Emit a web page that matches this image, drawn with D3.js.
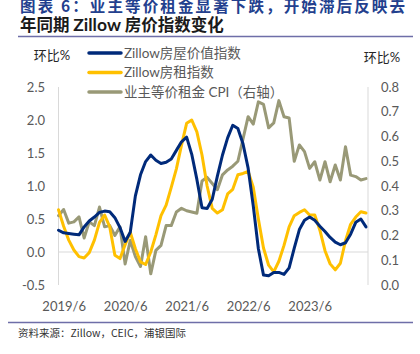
<!DOCTYPE html>
<html><head><meta charset="utf-8">
<script src="https://cdn.jsdelivr.net/npm/d3@7"></script>
<style>
html,body{margin:0;padding:0;background:#fff;}
svg{display:block;font-family:"Lato","Noto Sans CJK SC",sans-serif;}
</style></head>
<body><svg id="c" width="420" height="354"></svg>
<script>
const months = ["2019/5","2019/6","2019/7","2019/8","2019/9","2019/10","2019/11","2019/12",
"2020/1","2020/2","2020/3","2020/4","2020/5","2020/6","2020/7","2020/8","2020/9","2020/10","2020/11","2020/12",
"2021/1","2021/2","2021/3","2021/4","2021/5","2021/6","2021/7","2021/8","2021/9","2021/10","2021/11","2021/12",
"2022/1","2022/2","2022/3","2022/4","2022/5","2022/6","2022/7","2022/8","2022/9","2022/10","2022/11","2022/12",
"2023/1","2023/2","2023/3","2023/4","2023/5","2023/6","2023/7","2023/8","2023/9","2023/10","2023/11","2023/12",
"2024/1","2024/2","2024/3","2024/4","2024/5"];
const xTickLabels = ["2019/6","2020/6","2021/6","2022/6","2023/6"];
const homeValue = [0.33,0.29,0.28,0.27,0.26,0.38,0.47,0.53,0.60,0.62,
 0.61,0.52,0.37,0.16,0.30,0.85,1.17,1.37,1.47,1.39,
 1.34,1.36,1.41,1.54,1.67,1.74,1.48,1.10,0.67,0.66,
 0.80,1.15,1.47,1.73,1.92,1.87,1.64,1.27,0.70,0.05,
 -0.35,-0.36,-0.31,-0.31,-0.34,-0.24,0.06,0.34,0.48,0.53,
 0.48,0.39,0.31,0.22,0.15,0.11,0.14,0.27,0.45,0.50,0.38];
const rentIndex = [0.64,0.39,0.18,0.03,-0.07,-0.09,-0.01,0.18,0.45,0.56,
 0.38,-0.05,-0.10,0.11,0.30,0.05,-0.15,-0.19,0.00,0.26,
 0.55,0.71,0.98,1.26,1.62,1.95,2.00,1.82,1.47,1.00,
 0.66,0.59,0.64,0.88,0.95,1.17,1.19,1.22,0.98,0.50,
 0.06,-0.20,-0.30,-0.14,0.10,0.38,0.55,0.60,0.64,0.56,
 0.56,0.33,0.02,-0.18,-0.27,-0.17,0.17,0.42,0.53,0.61,0.59];
const oerCPI = [0.28,0.305,0.25,0.255,0.275,0.19,0.255,0.24,0.315,0.235,
 0.24,0.20,0.235,0.085,0.18,0.115,0.075,0.195,0.045,0.14,
 0.16,0.24,0.24,0.295,0.31,0.30,0.295,0.29,0.42,0.435,
 0.41,0.385,0.445,0.465,0.48,0.50,0.59,0.68,0.65,0.74,
 0.73,0.635,0.655,0.745,0.68,0.675,0.50,0.566,0.539,0.471,
 0.498,0.424,0.498,0.417,0.485,0.424,0.559,0.444,0.438,0.424,0.43];
const leftTicks = [-0.5,0,0.5,1,1.5,2,2.5];
const rightTicks = [0,0.1,0.2,0.3,0.4,0.5,0.6,0.7,0.8];
const seriesNames = ["Zillow房屋价值指数","Zillow房租指数","业主等价租金 CPI（右轴）"];
const seriesColors = ["#002A7A","#FFC000","#999977"];

const svg = d3.select("#c");
const L = 58.5, R = 368, T = 87, B = 285;
const x = d3.scalePoint().domain(months).range([L, 366]);
const yL = d3.scaleLinear().domain([-0.5, 2.5]).range([B, T]);
const yR = d3.scaleLinear().domain([0, 0.8]).range([B, T]);

// title
svg.append("text").attr("x",20).attr("y",11.5).attr("font-family","Noto Sans CJK SC").attr("font-weight","bold")
  .attr("font-size",15.5).attr("fill","#23408E").attr("textLength",385).attr("lengthAdjust","spacing")
  .text("图表 6：业主等价租金显著下跌，开始滞后反映去");
const t2 = svg.append("text").attr("x",20).attr("y",31).attr("font-family","Noto Sans CJK SC").attr("font-weight","bold")
  .attr("font-size",16.5).attr("fill","#1a1a1a");
t2.append("tspan").text("年同期 ");
t2.append("tspan").attr("font-family","Lato").attr("font-weight","bold").attr("font-size",17.5).text("Zillow");
t2.append("tspan").text(" 房价指数变化");
svg.append("line").attr("x1",18).attr("x2",413).attr("y1",36.5).attr("y2",36.5).attr("stroke","#6E6EA8").attr("stroke-width",1.5);
svg.append("line").attr("x1",8).attr("x2",413).attr("y1",322.5).attr("y2",322.5).attr("stroke","#6E6EA8").attr("stroke-width",1.5);
svg.append("text").attr("x",18).attr("y",337).attr("font-size",10.5).attr("fill","#333")
  .attr("font-family","Noto Sans CJK SC").text("资料来源：Zillow，CEIC，浦银国际");

// axis lines
svg.append("line").attr("x1",L).attr("x2",L).attr("y1",T).attr("y2",B).attr("stroke","#D9D9D9").attr("stroke-width",1);
svg.append("line").attr("x1",R).attr("x2",R).attr("y1",T).attr("y2",B).attr("stroke","#D9D9D9").attr("stroke-width",1);
svg.append("line").attr("x1",L).attr("x2",R).attr("y1",yL(0)).attr("y2",yL(0)).attr("stroke","#D9D9D9").attr("stroke-width",1);

const gl = svg.append("g").attr("transform",`translate(${L},0)`)
  .call(d3.axisLeft(yL).tickValues(leftTicks).tickSize(0).tickPadding(13.5).tickFormat(d=>d.toFixed(1)));
const gr = svg.append("g").attr("transform",`translate(${R},0)`)
  .call(d3.axisRight(yR).tickValues(rightTicks).tickSize(0).tickPadding(13).tickFormat(d=>d.toFixed(1)));
const gb = svg.append("g").attr("transform",`translate(0,${B})`)
  .call(d3.axisBottom(x).tickValues(xTickLabels).tickSize(0).tickPadding(17));
[gl,gr,gb].forEach(g=>{
  g.select(".domain").remove();
  g.selectAll("text").attr("font-size",13).attr("fill","#595959").attr("font-family","Lato");
});

svg.append("text").attr("x",52).attr("y",60).attr("text-anchor","middle").attr("font-size",13)
  .attr("fill","#262626").text("环比%");
svg.append("text").attr("x",382).attr("y",62).attr("text-anchor","middle").attr("font-size",13)
  .attr("fill","#262626").text("环比%");

const lineL = d3.line().x((d,i)=>x(months[i])).y(d=>yL(d));
const lineR = d3.line().x((d,i)=>x(months[i])).y(d=>yR(d));
const draw = (data, gen, color) => svg.append("path").datum(data).attr("d",gen).attr("fill","none")
  .attr("stroke",color).attr("stroke-width",3).attr("stroke-linejoin","round").attr("stroke-linecap","round");
draw(oerCPI, lineR, seriesColors[2]);
draw(rentIndex, lineL, seriesColors[1]);
draw(homeValue, lineL, seriesColors[0]);

// legend
const legY = [53, 72.5, 92];
seriesNames.forEach((n,i)=>{
  svg.append("line").attr("x1",89).attr("x2",121).attr("y1",legY[i]).attr("y2",legY[i])
    .attr("stroke",seriesColors[i]).attr("stroke-width",3.5).attr("stroke-linecap","round");
  svg.append("text").attr("x",124).attr("y",legY[i]+4.5).attr("font-size",13.5).attr("fill","#595959").text(n);
});
</script></body></html>
